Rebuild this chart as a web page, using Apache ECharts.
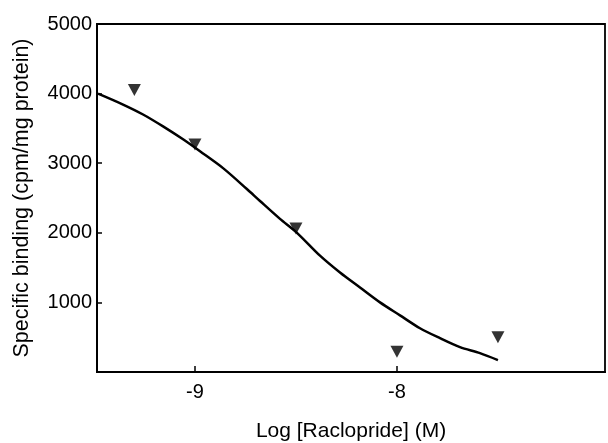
<!DOCTYPE html>
<html><head><meta charset="utf-8">
<script src="https://cdn.jsdelivr.net/npm/echarts@6/dist/echarts.min.js"></script>
<style>html,body{margin:0;padding:0;background:#fff}#c{width:608px;height:443px}</style>
</head><body><div id="c"></div>
<script>
// Observed data points (log M, cpm/mg protein)
const pointX = [-9.3, -9.0, -8.5, -8.0, -7.5];
const pointY = [4050, 3270, 2060, 290, 500];
// Fitted curve
const curveX = [-9.48, -9.356, -9.257, -9.158, -9.059, -8.975, -8.861, -8.743, -8.678, -8.579, -8.495, -8.381, -8.282, -8.183, -8.084, -7.985, -7.886, -7.787, -7.688, -7.589, -7.5];
const curveY = [4000, 3843, 3700, 3529, 3343, 3171, 2929, 2629, 2457, 2200, 2000, 1671, 1429, 1214, 1000, 814, 629, 486, 357, 271, 171];
const xTicks = [-9, -8];
const yTicks = [1000, 2000, 3000, 4000, 5000];

const font = '"Liberation Sans", Arial, sans-serif';
const chart = echarts.init(document.getElementById('c'), null, {renderer: 'canvas'});
chart.setOption({
  animation: false,
  grid: {left: 97, right: 3, top: 24, bottom: 71, show: true, borderColor: '#000', borderWidth: 1.8,
         backgroundColor: 'transparent', outerBoundsMode: 'none', containLabel: false},
  xAxis: {
    type: 'value', min: -9.485, max: -6.97,
    name: 'Log [Raclopride] (M)', nameLocation: 'middle', nameGap: 49,
    nameTextStyle: {fontFamily: font, fontSize: 21, color: '#000'},
    axisLine: {show: true, onZero: false, lineStyle: {color: '#000', width: 2}},
    axisTick: {show: true, inside: true, length: 6, customValues: xTicks, lineStyle: {color: '#000', width: 1.5}},
    axisLabel: {customValues: xTicks, fontFamily: font, fontSize: 20, color: '#000', margin: 10},
    splitLine: {show: false}
  },
  yAxis: {
    type: 'value', min: 0, max: 5000, interval: 1000,
    name: 'Specific binding (cpm/mg protein)', nameLocation: 'middle', nameGap: 64,
    nameTextStyle: {fontFamily: font, fontSize: 21.5, color: '#000'},
    axisLine: {show: true, lineStyle: {color: '#000', width: 2}},
    axisTick: {show: true, inside: true, length: 5, customValues: yTicks, lineStyle: {color: '#000', width: 1.5}},
    axisLabel: {customValues: yTicks, fontFamily: font, fontSize: 20, color: '#000', margin: 5,
                formatter: v => String(v)},
    splitLine: {show: false}
  },
  series: [
    {type: 'line', data: curveX.map((x, i) => [x, curveY[i]]), smooth: 0.3, showSymbol: false, symbol: 'none',
     lineStyle: {color: '#000', width: 2.5}},
    {type: 'scatter', data: pointX.map((x, i) => [x, pointY[i]]), symbol: 'triangle', symbolRotate: 180,
     symbolSize: [13, 12], itemStyle: {color: '#000'}}
  ]
});
</script></body></html>
